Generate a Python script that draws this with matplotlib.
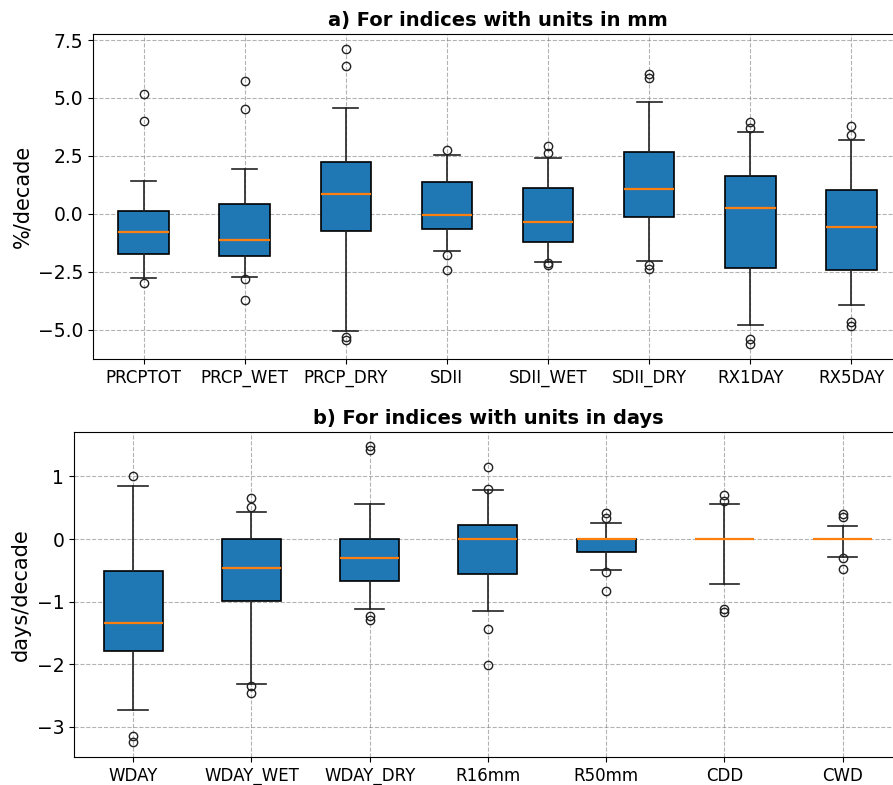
import matplotlib
matplotlib.use("Agg")
import matplotlib.pyplot as plt

# a) indices with units in mm  (%/decade)
mm_labels = ["PRCPTOT", "PRCP_WET", "PRCP_DRY", "SDII", "SDII_WET", "SDII_DRY", "RX1DAY", "RX5DAY"]
mm_whislo = [-2.79, -2.71, -5.07, -1.61, -2.08, -2.04, -4.80, -3.92]
mm_q1     = [-1.72, -1.82, -0.73, -0.68, -1.22, -0.16, -2.34, -2.41]
mm_med    = [-0.78, -1.12, 0.86, -0.07, -0.36, 1.08, 0.26, -0.58]
mm_q3     = [0.13, 0.44, 2.25, 1.38, 1.10, 2.65, 1.62, 1.02]
mm_whishi = [1.43, 1.94, 4.56, 2.55, 2.41, 4.82, 3.53, 3.17]
mm_fliers = [[5.17, 4.02, -2.99],
             [5.71, 4.52, -2.80, -3.73],
             [7.10, 6.38, -5.31, -5.44],
             [2.77, -1.78, -2.44],
             [2.94, 2.63, -2.11, -2.20],
             [6.03, 5.85, -2.20, -2.37],
             [3.94, 3.70, -5.41, -5.61],
             [3.77, 3.40, -4.69, -4.86]]
mm_yticks = [-5.0, -2.5, 0.0, 2.5, 5.0, 7.5]

# b) indices with units in days  (days/decade)
day_labels = ["WDAY", "WDAY_WET", "WDAY_DRY", "R16mm", "R50mm", "CDD", "CWD"]
day_whislo = [-2.73, -2.31, -1.12, -1.15, -0.49, -0.71, -0.28]
day_q1     = [-1.78, -0.99, -0.67, -0.56, -0.21, 0.0, 0.0]
day_med    = [-1.34, -0.47, -0.31, 0.0, 0.0, 0.0, 0.0]
day_q3     = [-0.51, 0.0, 0.0, 0.23, 0.0, 0.0, 0.0]
day_whishi = [0.85, 0.44, 0.56, 0.78, 0.26, 0.56, 0.21]
day_fliers = [[1.0, -3.14, -3.24],
              [0.66, 0.51, -2.34, -2.46],
              [1.48, 1.43, -1.23, -1.30],
              [1.15, 0.80, -1.43, -2.01],
              [0.41, 0.34, -0.52, -0.83],
              [0.70, 0.60, -1.11, -1.16],
              [0.40, 0.36, -0.31, -0.48]]


def make_stats(labels, lo, q1, med, q3, hi, fl):
    stats = []
    for i in range(len(labels)):
        stats.append({"label": labels[i], "whislo": lo[i], "q1": q1[i], "med": med[i],
                      "q3": q3[i], "whishi": hi[i], "fliers": fl[i]})
    return stats


def draw(ax, stats, title, ylabel):
    ax.bxp(stats, widths=0.5, patch_artist=True,
           boxprops=dict(facecolor="#1f77b4", edgecolor="black", linewidth=1.2),
           whiskerprops=dict(color="#222222", linewidth=1.2),
           capprops=dict(color="#222222", linewidth=1.2),
           medianprops=dict(color="#ff7f0e", linewidth=1.6),
           flierprops=dict(marker="o", markerfacecolor="none", markeredgecolor="#222222", markersize=6))
    ax.grid(True, linestyle="--", color="gray", alpha=0.6, linewidth=0.8)
    ax.set_title(title, fontsize=14, fontweight="bold")
    ax.set_ylabel(ylabel, fontsize=15)
    ax.tick_params(axis="x", labelsize=12)
    ax.tick_params(axis="y", labelsize=13.5)


fig = plt.figure(figsize=(8.93, 7.85), dpi=100)
ax1 = fig.add_axes([0.1041, 0.5427, 0.906, 0.414])
ax2 = fig.add_axes([0.0829, 0.0357, 0.927, 0.414])

draw(ax1, make_stats(mm_labels, mm_whislo, mm_q1, mm_med, mm_q3, mm_whishi, mm_fliers),
     "a) For indices with units in mm", "%/decade")
ax1.set_yticks(mm_yticks)
ax1.set_ylim(-6.27, 7.76)

draw(ax2, make_stats(day_labels, day_whislo, day_q1, day_med, day_q3, day_whishi, day_fliers),
     "b) For indices with units in days", "days/decade")
ax2.set_ylim(-3.48, 1.71)

plt.savefig("out.png", dpi=100)
